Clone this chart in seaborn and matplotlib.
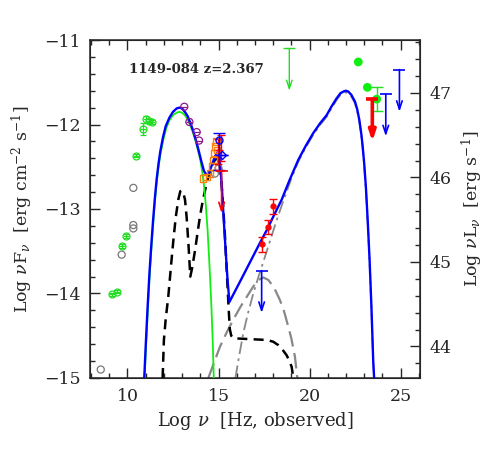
import numpy as np
import pandas as pd
import matplotlib
matplotlib.use("Agg")
import matplotlib.pyplot as plt
from matplotlib.ticker import MultipleLocator
import seaborn as sns

# ---------------- data ----------------
# total model (blue)
tot_x = [10.92, 11.00, 11.10, 11.20, 11.30, 11.40, 11.50, 11.60, 11.70, 11.80, 11.95, 12.10,
         12.30, 12.50, 12.70, 12.85, 13.00, 13.15, 13.30, 13.45, 13.60, 13.75, 13.90, 14.05,
         14.20, 14.35, 14.50, 14.65, 14.80, 14.95, 15.05, 15.12, 15.20, 15.30, 15.40, 15.50,
         15.60, 16.18, 16.73, 17.28, 17.65, 18.10, 18.47, 18.90, 19.38, 19.80, 20.21, 20.60,
         20.94, 21.20, 21.49, 21.70, 21.86, 22.00, 22.13, 22.30, 22.50, 22.62, 22.74, 22.85,
         22.92, 23.00, 23.10, 23.20, 23.30, 23.40, 23.50, 23.55]
tot_y = [-15.00, -14.62, -14.18, -13.78, -13.45, -13.15, -12.88, -12.65, -12.47, -12.32, -12.15, -12.02,
         -11.92, -11.85, -11.81, -11.80, -11.81, -11.85, -11.90, -11.98, -12.07, -12.18, -12.30, -12.43,
         -12.55, -12.60, -12.56, -12.47, -12.38, -12.33, -12.38, -12.55, -12.80, -13.17, -13.52, -13.85,
         -14.10, -13.86, -13.63, -13.40, -13.25, -13.05, -12.89, -12.66, -12.42, -12.25, -12.10, -11.98,
         -11.89, -11.79, -11.69, -11.63, -11.61, -11.60, -11.61, -11.65, -11.73, -11.82, -11.95, -12.12,
         -12.26, -12.45, -12.75, -13.15, -13.60, -14.15, -14.80, -15.00]
# synchrotron (green)
syn_x = [10.94, 11.02, 11.12, 11.22, 11.32, 11.42, 11.52, 11.62, 11.72, 11.82, 11.97, 12.12,
         12.30, 12.50, 12.70, 12.85, 13.00, 13.15, 13.30, 13.45, 13.60, 13.75, 13.90, 14.00,
         14.10, 14.20, 14.30, 14.40, 14.50, 14.60, 14.68, 14.74]
syn_y = [-15.00, -14.62, -14.18, -13.78, -13.45, -13.15, -12.88, -12.66, -12.48, -12.34, -12.18, -12.05,
         -11.95, -11.89, -11.86, -11.85, -11.86, -11.89, -11.94, -12.01, -12.10, -12.20, -12.33, -12.42,
         -12.55, -12.72, -12.95, -13.25, -13.65, -14.10, -14.55, -15.00]
# torus + disk + corona (black dashed)
thm_x = [11.93, 12.00, 12.10, 12.24, 12.40, 12.52, 12.65, 12.79, 12.90, 12.98, 13.07, 13.16,
         13.25, 13.35, 13.45, 13.55, 13.71, 13.85, 13.98, 14.12, 14.26, 14.44, 14.60, 14.80,
         14.95, 15.05, 15.15, 15.25, 15.35, 15.45, 15.55, 15.62, 15.70, 15.81, 16.73, 17.65,
         18.00, 18.28, 18.50, 18.74, 18.90, 19.02, 19.11]
thm_y = [-15.00, -14.55, -14.30, -14.04, -13.65, -13.37, -13.10, -12.89, -12.79, -12.78, -12.81, -12.89,
         -13.10, -13.42, -13.80, -13.70, -13.49, -13.28, -13.09, -12.92, -12.78, -12.62, -12.50, -12.42,
         -12.40, -12.45, -12.65, -12.95, -13.30, -13.72, -14.15, -14.42, -14.50, -14.53, -14.54, -14.55,
         -14.57, -14.61, -14.66, -14.73, -14.80, -14.87, -15.00]
# SSC (grey long dashed)
ssc_x = [14.44, 14.70, 15.08, 15.45, 15.81, 16.20, 16.55, 16.90, 17.19, 17.46, 17.74, 18.05,
         18.38, 18.60, 18.83, 19.00, 19.20, 19.33]
ssc_y = [-15.00, -14.85, -14.63, -14.46, -14.31, -14.16, -14.04, -13.92, -13.84, -13.81, -13.84, -13.93,
         -14.08, -14.21, -14.39, -14.53, -14.75, -15.00]
# external Compton (grey dash-dot)
ec_x = [15.93, 16.10, 16.36, 16.60, 16.91, 17.20, 17.56, 17.90, 18.20, 18.55, 19.00, 19.38,
        19.80, 20.21, 20.60, 20.94, 21.20, 21.49, 21.70, 21.86, 22.00, 22.13, 22.30, 22.50,
        22.62, 22.74, 22.85, 22.92, 23.00, 23.10, 23.20, 23.30, 23.40, 23.50, 23.55]
ec_y = [-15.00, -14.78, -14.47, -14.25, -14.00, -13.80, -13.56, -13.33, -13.13, -12.91, -12.64, -12.44,
        -12.27, -12.12, -12.00, -11.91, -11.81, -11.71, -11.65, -11.63, -11.62, -11.63, -11.67, -11.75,
        -11.84, -11.97, -12.14, -12.28, -12.47, -12.77, -13.17, -13.62, -14.17, -14.82, -15.00]

# radio-IR archival (green open circles)
rad_x = [9.13, 9.41, 9.68, 9.92, 10.47, 10.84, 11.00, 11.18, 11.33]
rad_y = [-14.01, -13.98, -13.44, -13.32, -12.37, -12.05, -11.94, -11.96, -11.97]
rad_e = [0.02, 0.02, 0.02, 0.02, 0.02, 0.07, 0.04, 0.02, 0.02]
# grey open circles
gry_x = [8.53, 9.68, 10.32, 10.32, 10.32, 14.80, 15.00]
gry_y = [-14.90, -13.54, -12.75, -13.19, -13.23, -12.58, -12.52]
# purple (IR)
pur_x = [13.12, 13.40, 13.80, 13.93]
pur_y = [-11.79, -11.97, -12.09, -12.19]
# orange squares (optical)
orn_x = [14.16, 14.35, 14.53, 14.63, 14.72, 14.75, 14.81, 14.90, 14.93]
orn_y = [-12.64, -12.62, -12.58, -12.50, -12.42, -12.34, -12.26, -12.20, -12.30]
# red UV points
ruv_x = [14.95, 15.05, 15.12]
ruv_y = [-12.32, -12.42, -12.28]
ruv_e = [0.15, 0.12, 0.15]
# blue UV
buv_x = [15.00, 15.18]
buv_y = [-12.18, -12.36]
buv_lo = [0.36, 0.0]
buv_hi = [0.08, 0.0]
# X-ray (red)
xr_x = [17.37, 17.70, 17.98]
xr_y = [-13.42, -13.21, -12.97]
xr_e = [0.09, 0.08, 0.09]
# gamma-ray detections (green filled)
gam_x = [22.68, 23.18, 23.69]
gam_y = [-11.26, -11.56, -11.70]
gam_e = [0.0, 0.0, 0.146]
# upper limits
ul_x = [15.17, 17.37, 18.89, 23.45, 24.19, 24.94]
ul_y = [-12.55, -13.73, -11.10, -11.70, -11.64, -11.35]
ul_c = ["red", "blue", "#22dd22", "red", "blue", "blue"]
ul_w = [1.2, 1.2, 1.0, 2.6, 1.2, 1.2]

label_txt = "1149-084 z=2.367"
lum_offset = 58.627

# ---------------- figure ----------------
sns.set_style("ticks")
plt.rcParams["font.family"] = ["DejaVu Serif"]
plt.rcParams["mathtext.fontset"] = "dejavuserif"

fig = plt.figure(figsize=(4.91, 4.63), dpi=100)
ax = fig.add_axes([0.1833, 0.1836, 0.6721, 0.730])

def line(x, y, color, lw, ls="-", z=2):
    sns.lineplot(x=x, y=y, ax=ax, color=color, lw=lw, sort=False, estimator=None,
                 linestyle=ls, zorder=z)

line(ec_x, ec_y, "#888888", 1.3, (0, (7, 2.5, 1.5, 2.5)), z=2)
line(ssc_x, ssc_y, "#888888", 1.6, (0, (7, 3)), z=2)
line(thm_x, thm_y, "black", 1.8, (0, (4, 2.5)), z=3)
line(syn_x, syn_y, "#11ee11", 1.3, "-", z=3)
line(tot_x, tot_y, "#0000ff", 1.7, "-", z=4)

GREEN = "#22dd22"
ax.errorbar(rad_x, rad_y, yerr=rad_e, fmt="o", mfc="none", mec=GREEN, ecolor=GREEN,
            ms=5, mew=0.9, capsize=2.5, elinewidth=0.9, zorder=5)
ax.plot(rad_x, rad_y, ls="none", marker="_", ms=5, color=GREEN, mew=0.9, zorder=5)
sns.scatterplot(x=gry_x, y=gry_y, ax=ax, marker="o", s=26, facecolor="none",
                edgecolor="#777777", linewidth=0.9, zorder=5)
sns.scatterplot(x=pur_x, y=pur_y, ax=ax, marker="o", s=26, facecolor="none",
                edgecolor="#8b1a8b", linewidth=0.9, zorder=5)
ax.plot(pur_x, pur_y, ls="none", marker="_", ms=5, color="#8b1a8b", mew=0.9, zorder=5)
sns.scatterplot(x=orn_x, y=orn_y, ax=ax, marker="s", s=22, facecolor="none",
                edgecolor="#ff7f0e", linewidth=1.0, zorder=6)
ax.errorbar(ruv_x, ruv_y, yerr=ruv_e, fmt="none", ecolor="red", capsize=3,
            elinewidth=1.0, zorder=6)
ax.errorbar(buv_x, buv_y, yerr=[buv_lo, buv_hi], fmt="none", ecolor="blue", capsize=4,
            elinewidth=1.0, zorder=6)
ax.plot(buv_x[1:], buv_y[1:], ls="none", marker="D", ms=4.5, mfc="none", mec="blue", mew=1.0, zorder=6)
ax.plot(buv_x[:1], buv_y[:1], ls="none", marker="o", ms=5, mfc="none", mec="blue", mew=1.0, zorder=6)
ax.errorbar(xr_x, xr_y, yerr=xr_e, fmt="o", color="red", ms=3.5, capsize=3,
            elinewidth=1.0, zorder=6)
sns.scatterplot(x=gam_x, y=gam_y, ax=ax, color="#11ee11", s=40, edgecolor="none", zorder=6)
ax.errorbar(gam_x[2:], gam_y[2:], yerr=gam_e[2:], fmt="none", ecolor=GREEN, capsize=4,
            elinewidth=1.0, zorder=6)

for x, y, c, w in zip(ul_x, ul_y, ul_c, ul_w):
    style = "-|>" if w > 2 else "->"
    ax.annotate("", xy=(x, y - 0.5), xytext=(x, y),
                arrowprops=dict(arrowstyle=style + ",head_length=0.6,head_width=0.2",
                                color=c, lw=w, shrinkA=0, shrinkB=0), zorder=7)
    ax.plot([x], [y], marker="_", ms=8, mew=w, color=c, zorder=7)

ax.text(10.08, -11.35, label_txt, fontsize=9.5, fontweight="bold", va="center", ha="left")

ax.set_xlim(7.94, 26.07)
ax.set_ylim(-15, -11)
ax.xaxis.set_major_locator(MultipleLocator(5))
ax.xaxis.set_minor_locator(MultipleLocator(1))
ax.yaxis.set_major_locator(MultipleLocator(1))
ax.yaxis.set_minor_locator(MultipleLocator(0.2))
ax.tick_params(which="both", direction="in", top=True, right=False, labelsize=12.5, width=1.0)
ax.tick_params(which="major", length=7, pad=7)
ax.tick_params(which="minor", length=3.5)
ax.set_xlabel(r"Log $\nu$  [Hz, observed]", fontsize=13)
ax.set_ylabel(r"Log $\nu$F$_\nu$  [erg cm$^{-2}$ s$^{-1}$]", fontsize=12.5, labelpad=6)
for s in ax.spines.values():
    s.set_linewidth(1.1)

ax2 = ax.twinx()
ax2.set_ylim(-15 + lum_offset, -11 + lum_offset)
ax2.yaxis.set_major_locator(MultipleLocator(1))
ax2.yaxis.set_minor_locator(MultipleLocator(0.2))
ax2.tick_params(which="both", direction="in", labelsize=12.5, width=1.0)
ax2.tick_params(which="major", length=7, pad=7)
ax2.tick_params(which="minor", length=3.5)
ax2.set_ylabel(r"Log $\nu$L$_\nu$  [erg s$^{-1}$]", fontsize=12.5, labelpad=6)

fig.savefig("out.png", dpi=100)
